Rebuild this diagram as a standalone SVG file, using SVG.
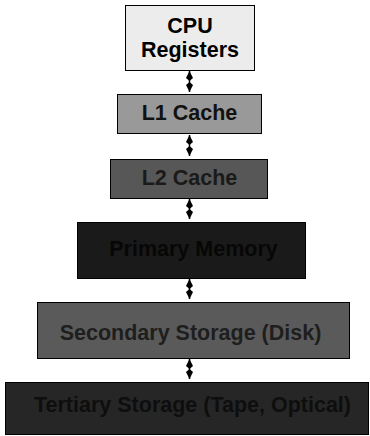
<svg xmlns="http://www.w3.org/2000/svg" width="370" height="436" viewBox="0 0 370 436">
<defs>
<marker id="ah" viewBox="0 0 10 8" refX="10" refY="4" markerWidth="10" markerHeight="8" markerUnits="userSpaceOnUse" orient="auto-start-reverse">
<path d="M0,4 L3,0.5 L10,4 L3,7.5 z" fill="#000"/>
</marker>
</defs>
<style>
.box{stroke:#000;stroke-width:1}
.lbl{font-family:"Liberation Sans",Arial,sans-serif;font-weight:bold;font-size:21.5px;text-anchor:middle}
.conn{stroke:#000;stroke-width:1.5;fill:none;marker-start:url(#ah);marker-end:url(#ah)}
</style>
<rect width="370" height="436" fill="#fff"/>
<g id="cpu">
<rect class="box" x="125.5" y="5.5" width="129" height="65" fill="#ececec"/>
<text class="lbl" x="190" y="33" font-size="20.5" fill="#000">CPU</text>
<text class="lbl" x="190" y="57" font-size="20.5" fill="#000">Registers</text>
</g>
<g id="l1">
<rect class="box" x="117.5" y="94.5" width="144" height="39" fill="#999999"/>
<text class="lbl" x="189.5" y="120" fill="#111">L1 Cache</text>
</g>
<g id="l2">
<rect class="box" x="110.5" y="159.5" width="157" height="39" fill="#575757"/>
<text class="lbl" x="189.5" y="185" fill="#1a1a1a">L2 Cache</text>
</g>
<g id="primary">
<rect class="box" x="77.5" y="222.5" width="228" height="56" fill="#1a1a1a"/>
<text class="lbl" x="193.5" y="256" fill="#070707">Primary Memory</text>
</g>
<g id="secondary">
<rect class="box" x="37.5" y="302.5" width="312" height="56" fill="#5a5a5a"/>
<text class="lbl" x="190.5" y="340" fill="#1e1e1e">Secondary Storage (Disk)</text>
</g>
<g id="tertiary">
<rect class="box" x="5.5" y="382.5" width="363" height="52" fill="#262626"/>
<text class="lbl" x="192.5" y="412" fill="#0e0e0e">Tertiary Storage (Tape, Optical)</text>
</g>
<g id="connectors">
<line class="conn" x1="189.5" y1="71" x2="189.5" y2="92"/>
<line class="conn" x1="189.5" y1="135" x2="189.5" y2="156"/>
<line class="conn" x1="189.5" y1="199" x2="189.5" y2="219"/>
<line class="conn" x1="189.5" y1="279" x2="189.5" y2="299"/>
<line class="conn" x1="189.5" y1="359" x2="189.5" y2="379"/>
</g>
</svg>
